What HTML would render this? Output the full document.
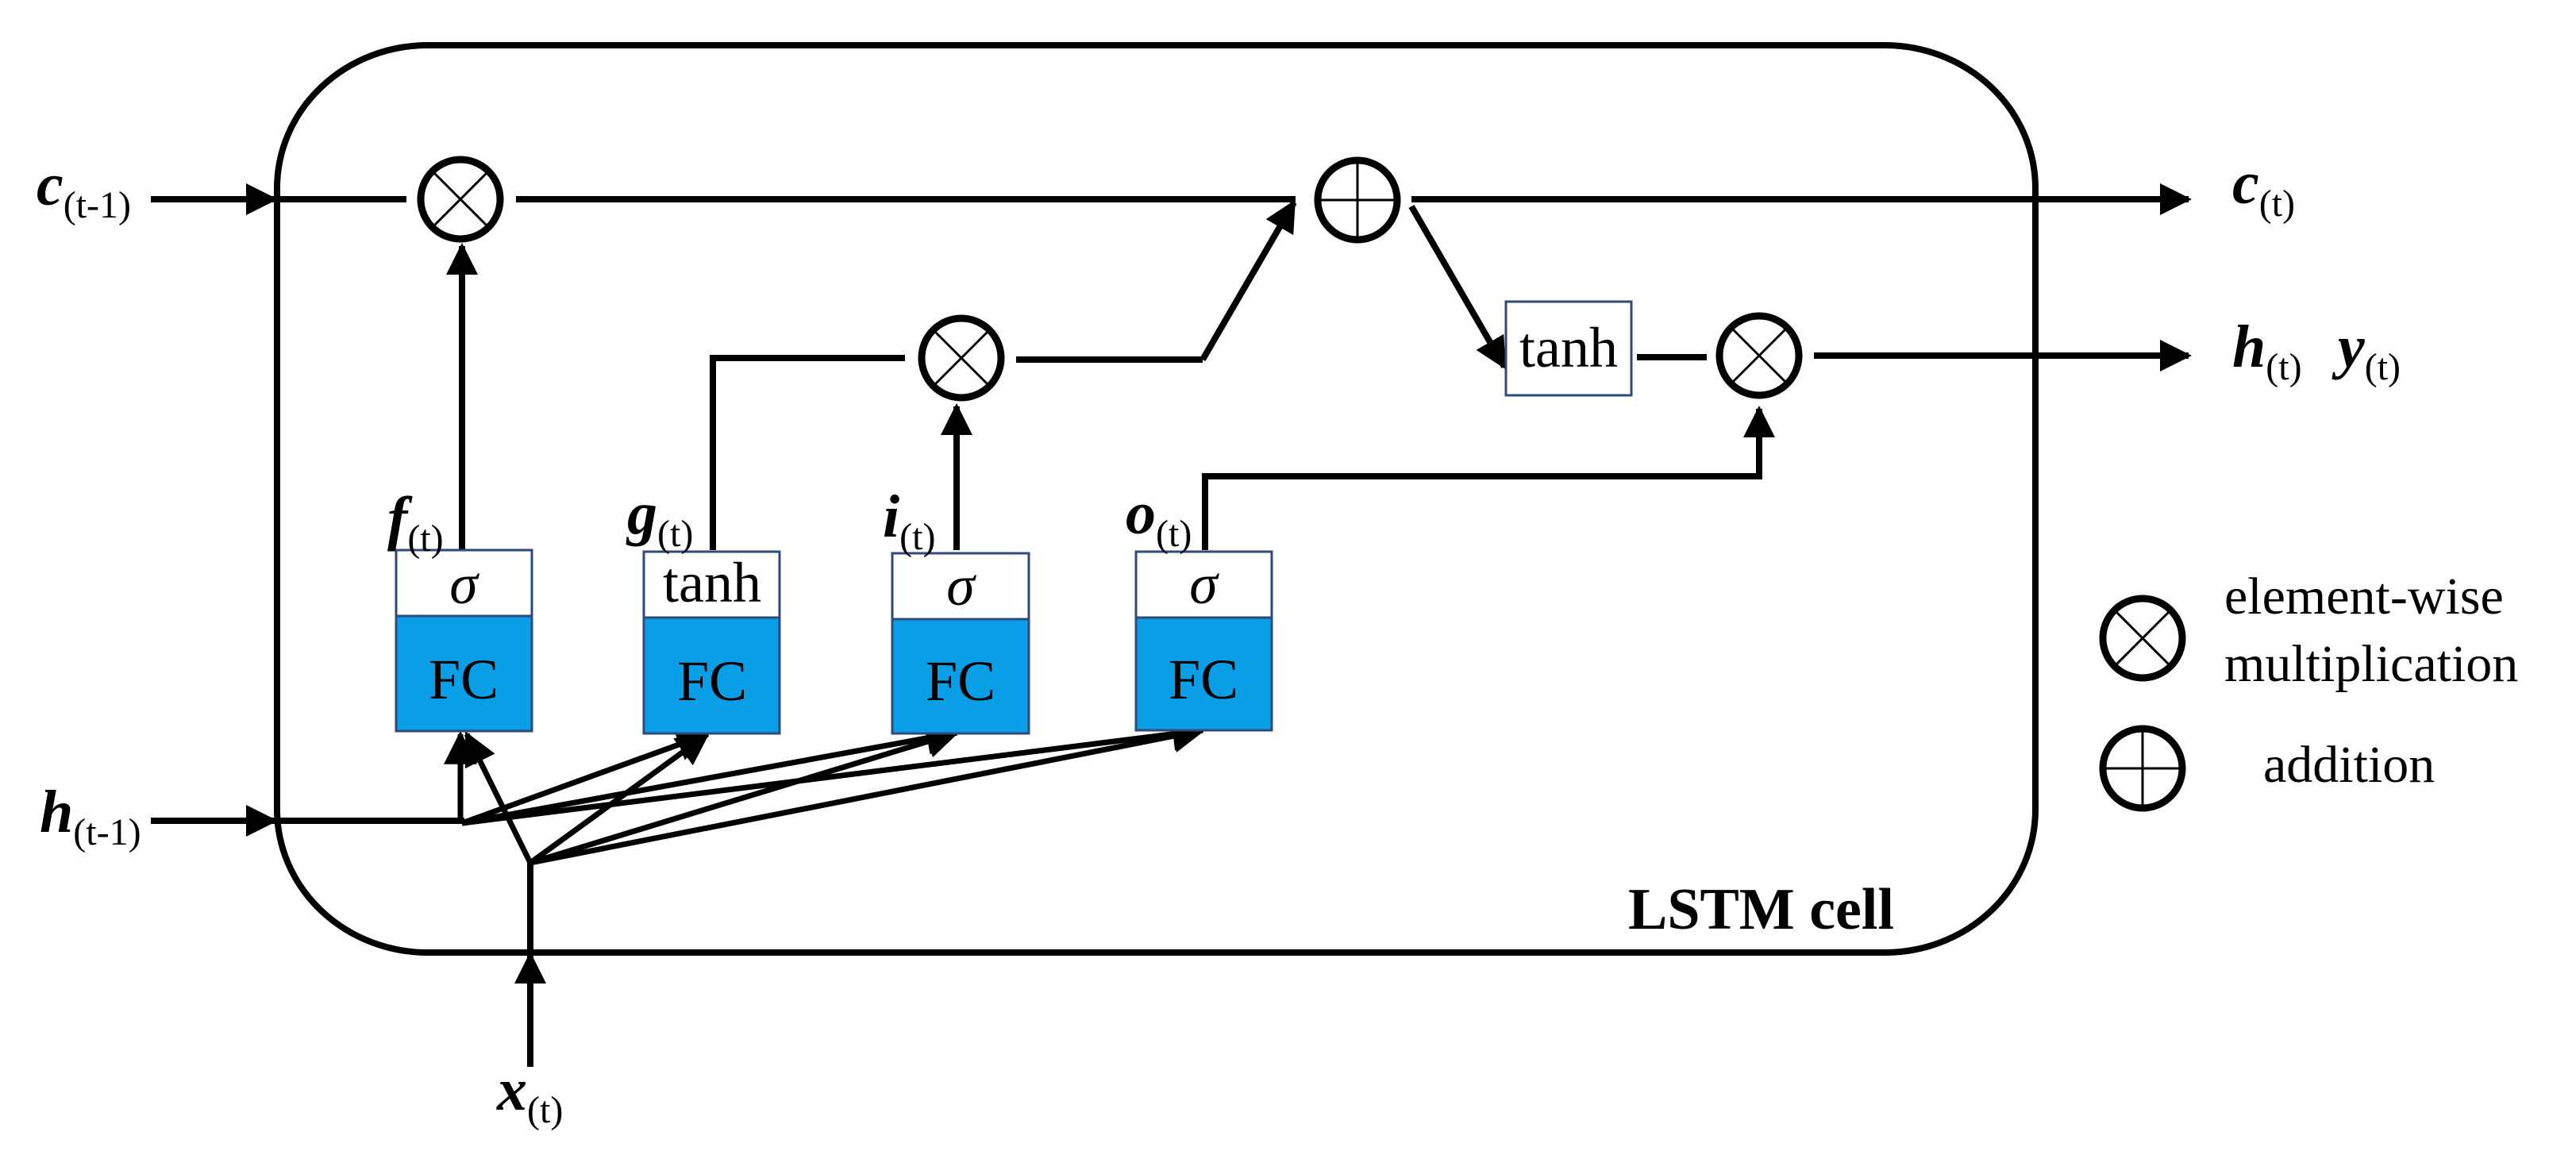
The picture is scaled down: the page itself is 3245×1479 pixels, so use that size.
<!DOCTYPE html>
<html><head><meta charset="utf-8"><style>
html,body{margin:0;padding:0;background:#fff;}
svg{display:block;}
text{font-family:"Liberation Serif",serif;}
.lb{font-weight:bold;font-style:italic;font-size:76px;}
.sb{font-size:48px;font-weight:normal;font-style:normal;}
</style></head><body>
<svg width="3245" height="1479" viewBox="0 0 3245 1479" xmlns="http://www.w3.org/2000/svg">
<defs>
<marker id="a" viewBox="0 0 10 10" refX="9" refY="5" markerWidth="5" markerHeight="5" orient="auto" markerUnits="strokeWidth">
<path d="M0,0 L10,5 L0,10 z" fill="#000"/></marker>
<marker id="b" viewBox="0 0 10 10" refX="9" refY="5" markerWidth="6" markerHeight="6" orient="auto" markerUnits="strokeWidth">
<path d="M0,0 L10,5 L0,10 z" fill="#000"/></marker>
</defs>
<rect x="349" y="57" width="2215" height="1143" rx="190" ry="180" fill="none" stroke="#000" stroke-width="8"/>
<g stroke="#000" stroke-width="8" fill="none">
<line x1="190" y1="251" x2="346" y2="251" marker-end="url(#a)"/>
<line x1="349" y1="251" x2="512" y2="251"/>
<line x1="650" y1="251" x2="1632" y2="251"/>
<line x1="1515" y1="453" x2="1630" y2="255" marker-end="url(#a)"/>
<line x1="1778" y1="251" x2="2757" y2="251" marker-end="url(#a)"/>
<line x1="1778" y1="260" x2="1895" y2="462" marker-end="url(#a)"/>
<line x1="190" y1="1034" x2="346" y2="1034" marker-end="url(#a)"/>
<line x1="349" y1="1034" x2="585" y2="1034"/>
<line x1="582" y1="692" x2="582" y2="310" marker-end="url(#a)"/>
<polyline points="898,693 898,451 1140,451"/>
<line x1="1280" y1="453" x2="1515" y2="453"/>
<line x1="1205" y1="693" x2="1205" y2="512" marker-end="url(#a)"/>
<polyline points="1518,693 1518,600 2216,600 2216,515" marker-end="url(#a)"/>
<line x1="2062" y1="450" x2="2150" y2="450"/>
<line x1="2285" y1="448" x2="2757" y2="448" marker-end="url(#a)"/>
<line x1="668" y1="1344" x2="668" y2="1203" marker-end="url(#a)"/>
<line x1="668" y1="1200" x2="668" y2="1087"/>
</g>
<g stroke="#000" stroke-width="7" fill="none">
<line x1="580" y1="1036" x2="580" y2="925" marker-end="url(#b)"/>
<line x1="582" y1="1037" x2="891" y2="925" marker-end="url(#b)"/>
<line x1="582" y1="1037" x2="1205" y2="923" marker-end="url(#b)"/>
<line x1="582" y1="1037" x2="1515" y2="920" marker-end="url(#b)"/>
<line x1="668" y1="1087" x2="588" y2="925" marker-end="url(#b)"/>
<line x1="668" y1="1087" x2="891" y2="925" marker-end="url(#b)"/>
<line x1="668" y1="1087" x2="1205" y2="923" marker-end="url(#b)"/>
<line x1="668" y1="1087" x2="1515" y2="920" marker-end="url(#b)"/>
</g>
<g stroke="#000" fill="#fff">
<circle cx="580" cy="251" r="50" stroke-width="9"/>
<line x1="545" y1="216" x2="615" y2="286" stroke-width="3"/><line x1="615" y1="216" x2="545" y2="286" stroke-width="3"/>
<circle cx="1211" cy="451" r="50" stroke-width="9"/>
<line x1="1176" y1="416" x2="1246" y2="486" stroke-width="3"/><line x1="1246" y1="416" x2="1176" y2="486" stroke-width="3"/>
<circle cx="2216" cy="448" r="50" stroke-width="9"/>
<line x1="2181" y1="413" x2="2251" y2="483" stroke-width="3"/><line x1="2251" y1="413" x2="2181" y2="483" stroke-width="3"/>
<circle cx="1710" cy="252" r="50" stroke-width="9"/>
<line x1="1660" y1="252" x2="1760" y2="252" stroke-width="3"/><line x1="1710" y1="202" x2="1710" y2="302" stroke-width="3"/>
<circle cx="2699" cy="804" r="50" stroke-width="9"/>
<line x1="2664" y1="769" x2="2734" y2="839" stroke-width="3"/><line x1="2734" y1="769" x2="2664" y2="839" stroke-width="3"/>
<circle cx="2699" cy="968" r="50" stroke-width="9"/>
<line x1="2649" y1="968" x2="2749" y2="968" stroke-width="3"/><line x1="2699" y1="918" x2="2699" y2="1018" stroke-width="3"/>
</g>
<g stroke="#2f4a7a" stroke-width="3">
<rect x="499" y="693" width="171" height="83" fill="#fff"/><rect x="499" y="776" width="171" height="145" fill="#0a9ee6"/>
<rect x="811" y="695" width="171" height="83" fill="#fff"/><rect x="811" y="778" width="171" height="146" fill="#0a9ee6"/>
<rect x="1124" y="697" width="172" height="83" fill="#fff"/><rect x="1124" y="780" width="172" height="144" fill="#0a9ee6"/>
<rect x="1431" y="695" width="171" height="83" fill="#fff"/><rect x="1431" y="778" width="171" height="142" fill="#0a9ee6"/>
<rect x="1897" y="380" width="158" height="118" fill="#fff"/>
</g>
<g font-size="72" text-anchor="middle">
<text x="584" y="760" font-style="italic">σ</text>
<text x="897" y="758">tanh</text>
<text x="1210" y="762" font-style="italic">σ</text>
<text x="1516" y="760" font-style="italic">σ</text>
<text x="584" y="880">FC</text>
<text x="897" y="882">FC</text>
<text x="1210" y="882">FC</text>
<text x="1516" y="880">FC</text>
<text x="1976" y="462">tanh</text>
</g>
<text x="46" y="258" class="lb">c<tspan class="sb" dy="16">(t-1)</tspan></text>
<text x="50" y="1048" class="lb">h<tspan class="sb" dy="16">(t-1)</tspan></text>
<text x="488" y="678" class="lb">f<tspan class="sb" dy="16">(t)</tspan></text>
<text x="790" y="672" class="lb">g<tspan class="sb" dy="16">(t)</tspan></text>
<text x="1112" y="676" class="lb">i<tspan class="sb" dy="16">(t)</tspan></text>
<text x="1418" y="672" class="lb">o<tspan class="sb" dy="16">(t)</tspan></text>
<text x="626" y="1398" class="lb">x<tspan class="sb" dy="16">(t)</tspan></text>
<text x="2812" y="256" class="lb">c<tspan class="sb" dy="16">(t)</tspan></text>
<text x="2812" y="462" class="lb">h<tspan class="sb" dy="16">(t)</tspan></text>
<text x="2945" y="462" class="lb">y<tspan class="sb" dy="16">(t)</tspan></text>
<text x="2051" y="1170" font-size="74" font-weight="bold">LSTM cell</text>
<text x="2802" y="773" font-size="66">element-wise</text>
<text x="2802" y="858" font-size="66">multiplication</text>
<text x="2851" y="985" font-size="66">addition</text>
</svg>
</body></html>
